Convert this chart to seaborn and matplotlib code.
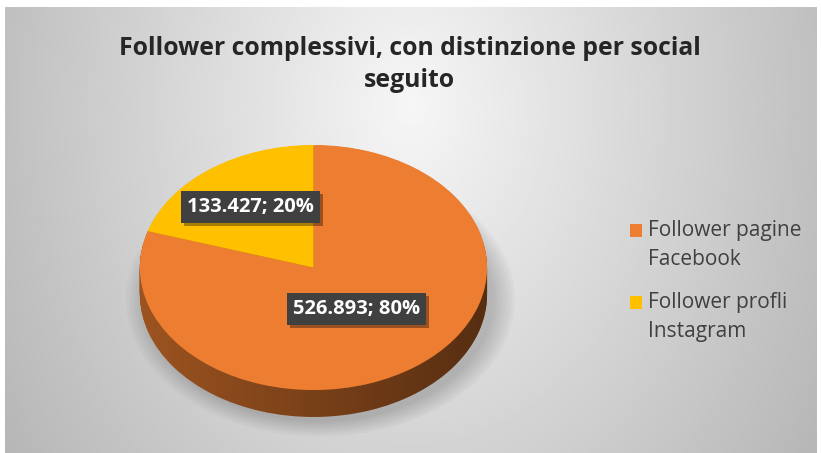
import numpy as np
import matplotlib
matplotlib.use('Agg')
import matplotlib.pyplot as plt
import matplotlib.patheffects as pe
from matplotlib.patches import Polygon, Ellipse
import matplotlib.colors as mcolors
import seaborn as sns

# data
categories = ['Follower pagine\nFacebook', 'Follower profli\nInstagram']
values = [526893, 133427]
colors = ['#ED7D31', '#FFC000']
title = 'Follower complessivi, con distinzione per social\nseguito'

sns.set_theme(style='white')
plt.rcParams['font.family'] = ['Open Sans', 'DejaVu Sans']

fig = plt.figure(figsize=(8.21, 4.53), dpi=100)
fig.patch.set_facecolor('white')

# chart area background (radial grey gradient)
bg = fig.add_axes([5 / 821, 0, 811 / 821, 446 / 453])
bg.axis('off')
gx, gy = np.meshgrid(np.linspace(0, 1, 400), np.linspace(0, 1, 220))
r = np.sqrt(((gx - 0.5) / 0.5) ** 2 + ((gy - 0.22) / 1.2) ** 2)
shade = np.clip(0.965 - 0.21 * r, 0, 1)
bg.imshow(shade, cmap='gray', vmin=0, vmax=1, aspect='auto', extent=[0, 1, 1, 0])
bg.set_xlim(0, 1)
bg.set_ylim(1, 0)

# pie axes
ax = fig.add_axes([0.1175, 0.0309, 0.5286, 0.7166])
depth = 0.22

# soft shadow under the pie
for s in np.linspace(1.12, 1.0, 8):
    ax.add_patch(Ellipse((0.04, -depth - 0.04), 2 * s, 2 * s, color='black', alpha=0.025, lw=0))

# side wall: stacked darker pies
dark = [tuple(np.array(mcolors.to_rgb(c)) * 0.66) for c in colors]
for off in np.linspace(depth, 0.004, 30):
    ax.pie(values, colors=dark, startangle=90, counterclock=False,
           center=(0, -off), wedgeprops=dict(linewidth=0))

# horizontal shading on the side wall
t = np.linspace(np.pi, 2 * np.pi, 200)
band = Polygon(np.column_stack([np.r_[np.cos(t), np.cos(t[::-1])],
                                np.r_[np.sin(t), np.sin(t[::-1]) - depth]]),
               closed=True, fc='none', ec='none', transform=ax.transData)
ax.add_patch(band)
rgba = np.zeros((2, 200, 4))
rgba[..., 3] = np.linspace(0.0, 0.45, 200)[None, :]
im = ax.imshow(rgba, extent=[-1, 1, -1 - depth, 0], aspect='auto', zorder=2)
im.set_clip_path(band)

# top face
wedges, _ = ax.pie(values, colors=colors, startangle=90, counterclock=False,
                   wedgeprops=dict(linewidth=0))
for w in wedges:
    w.set_zorder(3)

ax.set_aspect('auto')
ax.set_xlim(-1.25, 1.25)
ax.set_ylim(-1.4, 1.25)
ax.axis('off')

# data labels
total = sum(values)
label_dist = [0.42, 0.61]
for w, v, d in zip(wedges, values, label_dist):
    ang = np.deg2rad((w.theta1 + w.theta2) / 2)
    txt = f"{v:,}".replace(',', '.') + f"; {round(v / total * 100)}%"
    tx = ax.text(d * np.cos(ang), d * np.sin(ang), txt, ha='center', va='center',
                 color='white', fontsize=14.5, fontweight='bold', zorder=5,
                 bbox=dict(boxstyle='square,pad=0.3', fc='#404040', ec='none'))
    tx.get_bbox_patch().set_path_effects([
        pe.SimplePatchShadow(offset=(2, -2), shadow_rgbFace='black', alpha=0.35),
        pe.Normal()])

# title
fig.text(0.499, 0.858, title, ha='center', va='center', fontsize=17.8,
         fontweight='bold', color='#262626', linespacing=1.4)

# legend
leg = fig.legend(wedges, categories, loc='upper left', bbox_to_anchor=(0.744, 0.556),
                 frameon=False, fontsize=15, handlelength=0.6, handleheight=0.6,
                 handletextpad=0.3, labelspacing=1.08, labelcolor='#404040')
for txt in leg.get_texts():
    txt.set_linespacing(1.5)
for h in leg.legend_handles:
    h.set_y(h.get_y() + 11)

fig.savefig('out.png', dpi=100, facecolor=fig.get_facecolor())
